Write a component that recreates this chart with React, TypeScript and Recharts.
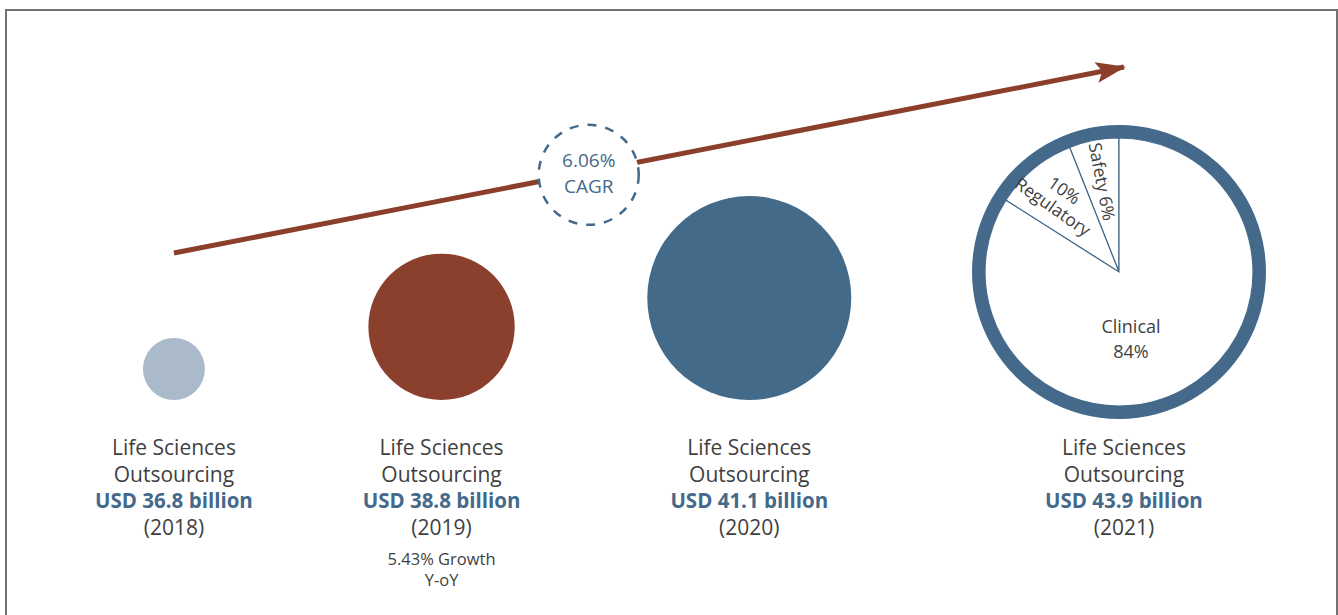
import React from 'react';
import { ComposedChart, Scatter, Line, XAxis, YAxis, ZAxis, PieChart, Pie, Cell } from 'recharts';

const years = ['2018', '2019', '2020', '2021'];
const marketSize = [36.8, 38.8, 41.1, 43.9]; // USD billion
const growthNote = [[], ['5.43% Growth', 'Y-oY'], [], []];
const cagrLabel = ['6.06%', 'CAGR'];
const cagrAt = 39.9;
const segmentNames = ['Safety', 'Regulatory', 'Clinical'];
const segmentShares = [6, 10, 84];

const W = 1338;
const H = 615;
const FONT = '"Open Sans", "Noto Sans", sans-serif';
const GREY = '#3f3f3f';
const BLUE = '#44698a';
const RUST = '#8b3f2b';
const bubbleFill = ['#abbacb', '#8a402d', '#446a8a'];

const trendData = marketSize.map(v => ({ value: v }));
const bubbleData = marketSize.slice(0, 3).map((v, i) => ({ year: years[i], value: v, base: 0 }));
const cagrData = [{ value: cagrAt }];
const pieData = segmentNames.map((name, i) => ({ name, share: segmentShares[i] }));
const ringData = [{ name: years[3], value: marketSize[3] }];

const Bubble = (props: any) => {
    const { cx, cy, width, payload } = props;
    const r = width / 2;
    const i = years.indexOf(payload.year);
    return <circle cx={cx} cy={cy - r} r={r} fill={bubbleFill[i]} />;
};

const CagrMark = (props: any) => {
    const { cx } = props;
    const cy = props.cy + 3;
    return (
        <g fontFamily={FONT} textAnchor="middle" fill={BLUE}>
            <circle cx={cx} cy={cy} r={50} fill="#fff" stroke={BLUE} strokeWidth={2.5} strokeDasharray="9 9" />
            <text x={cx} y={cy - 8} fontSize={19}>{cagrLabel[0]}</text>
            <text x={cx} y={cy + 18} fontSize={19}>{cagrLabel[1]}</text>
        </g>
    );
};

const YearTick = (props: any) => {
    const { x, y, payload } = props;
    const i = marketSize.indexOf(payload.value);
    if (i < 0) return null;
    return (
        <g fontFamily={FONT} textAnchor="middle">
            <text x={x} y={y + 47} fontSize={21} fill={GREY}>Life Sciences</text>
            <text x={x} y={y + 74} fontSize={21} fill={GREY}>Outsourcing</text>
            <text x={x} y={y + 100} fontSize={20.5} fontWeight="bold" fill={BLUE}>{`USD ${marketSize[i]} billion`}</text>
            <text x={x} y={y + 127} fontSize={21} fill={GREY}>{`(${years[i]})`}</text>
            {growthNote[i].map((line, k) => (
                <text key={k} x={x} y={y + 157 + k * 21} fontSize={16.5} fill={GREY}>{line}</text>
            ))}
        </g>
    );
};

const renderSegmentLabel = (props: any) => {
    const { cx, cy, midAngle, index } = props;
    const RAD = Math.PI / 180;
    if (index === 2) {
        return (
            <g fontFamily={FONT} textAnchor="middle" fill={GREY} fontSize={18}>
                <text x={cx + 12} y={cy + 61}>{segmentNames[2]}</text>
                <text x={cx + 12} y={cy + 86}>{`${segmentShares[2]}%`}</text>
            </g>
        );
    }
    const r = index === 0 ? 92 : 95;
    const x = cx + r * Math.cos(-midAngle * RAD);
    const y = cy + r * Math.sin(-midAngle * RAD);
    const rot = index === 0 ? 180 - midAngle : 35;
    const lines = index === 0
        ? [`${segmentNames[0]} ${segmentShares[0]}%`]
        : [`${segmentShares[1]}%`, segmentNames[1]];
    return (
        <text transform={`translate(${x},${y}) rotate(${rot})`} textAnchor="middle" fontFamily={FONT} fontSize={17.5} fill={GREY}>
            {lines.map((l, k) => (
                <tspan key={k} x={0} y={(k - (lines.length - 1) / 2) * 20 + 6}>{l}</tspan>
            ))}
        </text>
    );
};

export default function App() {
    return (
        <div style={{ position: 'absolute', left: 0, top: 0, width: W, height: H, overflow: 'hidden', background: '#fff' }}>
            <div style={{ position: 'absolute', left: 5, top: 9, width: 1333, height: 650, boxSizing: 'border-box', border: '2.5px solid #737373' }} />
            <div style={{ position: 'absolute', left: 0, top: 0 }}>
                <ComposedChart width={W} height={H} margin={{ top: 0, right: 0, left: 0, bottom: 15 }}>
                    <defs>
                        <marker id="trendArrow" markerUnits="userSpaceOnUse" markerWidth={32} markerHeight={24} refX={28} refY={12} orient="auto">
                            <path d="M0,1.5 L30,12 L0,22.5 L6,12 Z" fill={RUST} />
                        </marker>
                    </defs>
                    <XAxis
                        dataKey="value"
                        type="number"
                        domain={[35.5, 45.5]}
                        ticks={marketSize}
                        interval={0}
                        axisLine={false}
                        tickLine={false}
                        height={200}
                        tick={(p: any) => <YearTick {...p} />}
                    />
                    <YAxis yAxisId="base" type="number" domain={[0, 1]} hide />
                    <YAxis yAxisId="trend" type="number" domain={[31.19, 46.46]} hide />
                    <ZAxis dataKey="value" type="number" domain={[36.8, 43.9]} range={[3019, 52002]} />
                    <Line
                        yAxisId="trend"
                        data={trendData}
                        dataKey="value"
                        type="linear"
                        stroke={RUST}
                        strokeWidth={5}
                        dot={false}
                        markerEnd="url(#trendArrow)"
                        isAnimationActive={false}
                    />
                    <Scatter yAxisId="base" data={bubbleData} dataKey="base" shape={(p: any) => <Bubble {...p} />} isAnimationActive={false} />
                    <Scatter yAxisId="trend" data={cagrData} dataKey="value" shape={(p: any) => <CagrMark {...p} />} isAnimationActive={false} />
                </ComposedChart>
            </div>
            <div style={{ position: 'absolute', left: 0, top: 0 }}>
                <PieChart width={W} height={H} margin={{ top: 0, right: 0, bottom: 0, left: 0 }}>
                    <Pie
                        data={ringData}
                        dataKey="value"
                        cx={1119}
                        cy={272}
                        innerRadius={134}
                        outerRadius={147}
                        fill={BLUE}
                        stroke="none"
                        isAnimationActive={false}
                    />
                    <Pie
                        data={pieData}
                        dataKey="share"
                        cx={1119}
                        cy={272}
                        innerRadius={0}
                        outerRadius={134}
                        startAngle={90}
                        endAngle={450}
                        stroke={BLUE}
                        strokeWidth={1.2}
                        label={renderSegmentLabel}
                        labelLine={false}
                        isAnimationActive={false}
                    >
                        {pieData.map((d) => <Cell key={d.name} fill="#fff" />)}
                    </Pie>
                </PieChart>
            </div>
        </div>
    );
}
